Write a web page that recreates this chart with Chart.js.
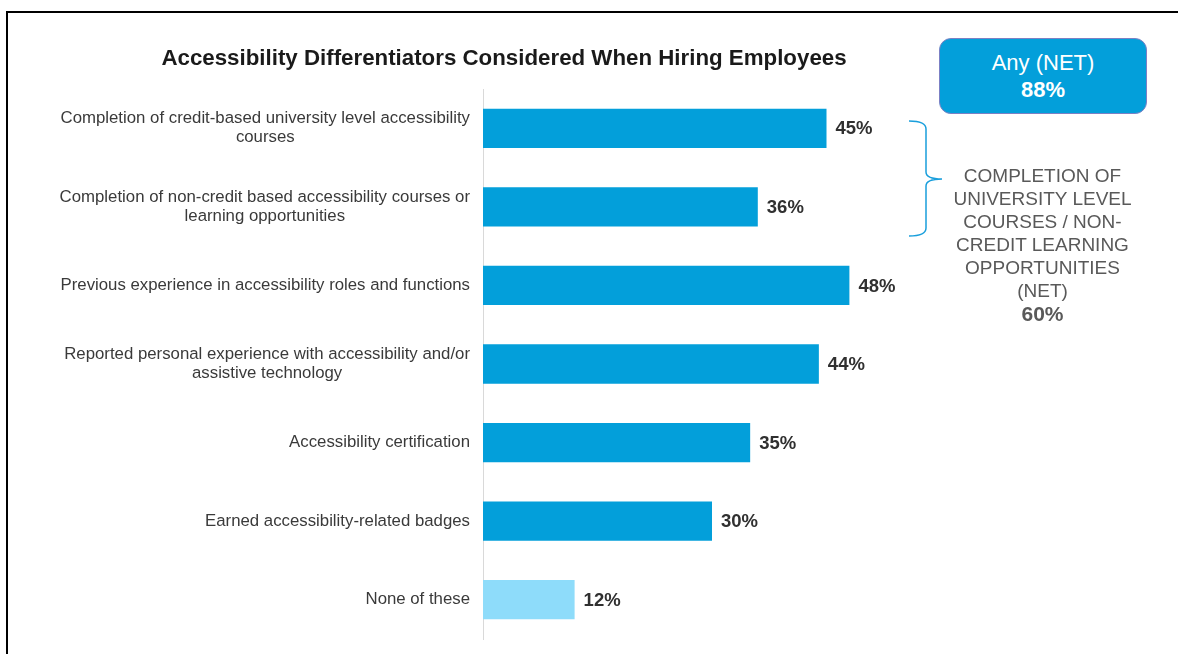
<!DOCTYPE html>
<html>
<head>
<meta charset="utf-8">
<script src="https://cdn.jsdelivr.net/npm/chart.js@4"></script>
<style>
  html, body { margin: 0; padding: 0; background: #fff; }
  body { width: 1178px; height: 654px; position: relative; overflow: hidden; font-family: "Liberation Sans", Arial, sans-serif; }
  #frame { position: absolute; left: 6px; top: 11px; width: 1200px; height: 700px; border-top: 2px solid #000; border-left: 2px solid #000; }
  #chart { position: absolute; left: 0; top: 0; }
  #title { position: absolute; left: 0; top: 45px; width: 1008px; text-align: center; font-weight: bold; font-size: 22.3px; line-height: 26px; color: #1a1a1a; }
  #net-box { position: absolute; left: 939px; top: 38px; width: 206px; height: 74px; border: 1px solid #7c80c4; border-radius: 12px; background: #039fda; color: #fff; text-align: center; font-size: 22px; line-height: 27px; display: flex; flex-direction: column; justify-content: center; }
  #net-box b { font-size: 22px; }
  #net-side { position: absolute; left: 932px; top: 164px; width: 221px; text-align: center; color: #595959; font-size: 19px; line-height: 23px; }
  #net-side b { font-size: 21px; }
  #brace { position: absolute; left: 0; top: 0; }
</style>
</head>
<body>
<div id="frame"></div>
<canvas id="chart" width="1178" height="654"></canvas>
<div id="title">Accessibility Differentiators Considered When Hiring Employees</div>
<div id="net-box"><span>Any (NET)</span><b>88%</b></div>
<svg id="brace" width="1178" height="654">
  <path d="M909,121 Q926,121 926,129 L926,172 Q926,179 942,179 Q926,179 926,186 L926,228 Q926,236 909,236" fill="none" stroke="#1a9fdc" stroke-width="1.5"/>
</svg>
<div id="net-side">COMPLETION OF<br>UNIVERSITY LEVEL<br>COURSES / NON-<br>CREDIT LEARNING<br>OPPORTUNITIES<br>(NET)<br><b>60%</b></div>
<script>
// each category is a list of the lines it is printed on
const categories = [
    ['Completion of credit-based university level accessibility', 'courses'],
    ['Completion of non-credit based accessibility courses or', 'learning opportunities'],
    ['Previous experience in accessibility roles and functions'],
    ['Reported personal experience with accessibility and/or', 'assistive technology'],
    ['Accessibility certification'],
    ['Earned accessibility-related badges'],
    ['None of these']
];
const values = [45, 36, 48, 44, 35, 30, 12];
const barColors = ['#039fda', '#039fda', '#039fda', '#039fda', '#039fda', '#039fda', '#8edcfa'];

const fontFamily = '"Liberation Sans", Arial, sans-serif';

// percent labels at the end of each bar
const valueLabels = {
    id: 'valueLabels',
    afterDatasetsDraw(chart){
        const ctx = chart.ctx;
        const meta = chart.getDatasetMeta(0);
        ctx.save();
        ctx.font = 'bold 18.5px ' + fontFamily;
        ctx.fillStyle = '#303030';
        ctx.textAlign = 'left';
        ctx.textBaseline = 'middle';
        meta.data.forEach((bar, i) => {
            ctx.fillText(values[i] + '%', bar.x + 9, bar.y + 1);
        });
        ctx.restore();
    }
};

// category names: block right-aligned to the axis, lines centred inside the block
const categoryLabels = {
    id: 'categoryLabels',
    afterDraw(chart){
        const ctx = chart.ctx;
        const yScale = chart.scales.y;
        const lineGap = 19;
        ctx.save();
        ctx.font = '16.8px ' + fontFamily;
        ctx.fillStyle = '#3a3a3a';
        ctx.textAlign = 'center';
        ctx.textBaseline = 'middle';
        categories.forEach((lines, i) => {
            const widest = Math.max(...lines.map(line => ctx.measureText(line).width));
            const cx = yScale.right - 13 - widest / 2;
            const y0 = yScale.getPixelForValue(i) - (lines.length - 1) * lineGap / 2;
            lines.forEach((line, j) => {
                ctx.fillText(line, cx, y0 + j * lineGap);
            });
        });
        ctx.restore();
    }
};

const ctx = document.getElementById('chart');
new Chart(ctx, {
    type: 'bar',
    data: {
        labels: categories.map(lines => lines.join(' ')),
        datasets: [{
            data: values,
            backgroundColor: barColors,
            borderWidth: 0,
            categoryPercentage: 1,
            barPercentage: 0.5
        }]
    },
    options: {
        indexAxis: 'y',
        responsive: false,
        animation: false,
        layout: {
            padding: { top: 89, bottom: 15, left: 0, right: 237 }
        },
        plugins: {
            legend: { display: false },
            tooltip: { enabled: false }
        },
        scales: {
            x: {
                display: false,
                min: 0,
                max: 60
            },
            y: {
                grid: { display: false },
                border: { display: true, color: '#d9d9d9', width: 1 },
                ticks: { display: false },
                afterFit(scale){
                    scale.width = 483;
                }
            }
        }
    },
    plugins: [valueLabels, categoryLabels]
});
</script>
</body>
</html>
